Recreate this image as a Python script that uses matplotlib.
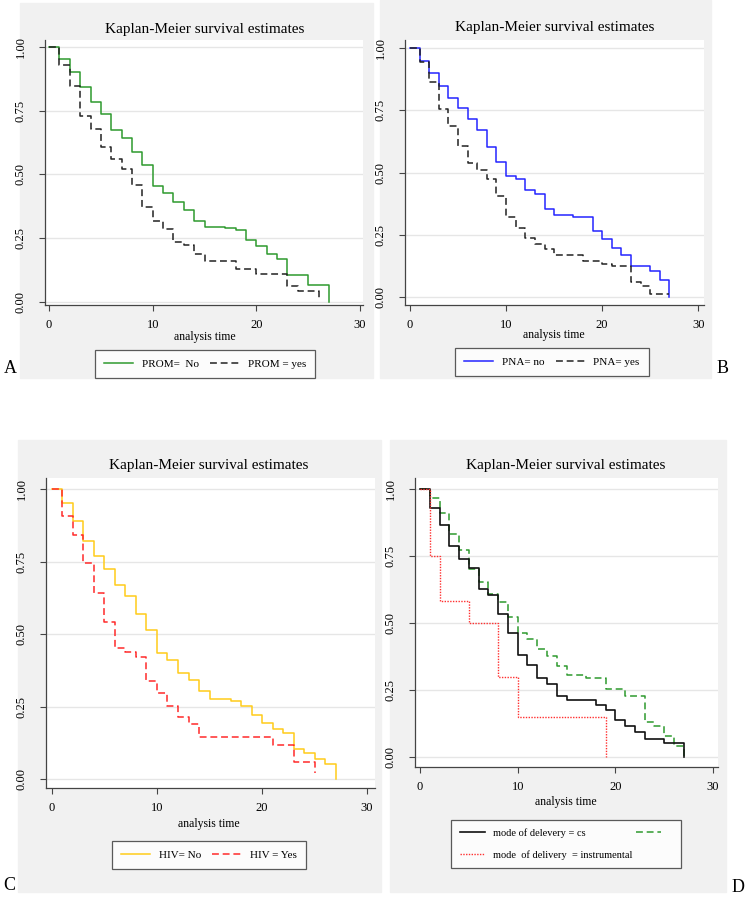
import matplotlib.pyplot as plt
from matplotlib.patches import Rectangle

plt.rcParams['font.family'] = ['Liberation Serif', 'DejaVu Serif']

# ---- data (KM survival estimates, step at each time) ----
# panel A: PROM
promno_t = [0, 1, 2, 3, 4, 5, 6, 7, 8, 9, 10, 11, 12, 13, 14, 15, 17, 18, 19, 20, 21, 22, 23, 25, 27]
promno_s = [1.0, 0.952, 0.902, 0.841, 0.784, 0.735, 0.673, 0.641, 0.586, 0.535, 0.455, 0.427, 0.390,
            0.359, 0.318, 0.294, 0.288, 0.282, 0.242, 0.220, 0.187, 0.169, 0.105, 0.068, 0.0]
promyes_t = [0, 1, 2, 3, 4, 5, 6, 7, 8, 9, 10, 11, 12, 13, 14, 15, 18, 20, 23, 24, 26]
promyes_s = [1.0, 0.928, 0.846, 0.729, 0.678, 0.608, 0.562, 0.520, 0.460, 0.373, 0.316, 0.286, 0.235,
             0.222, 0.186, 0.159, 0.131, 0.109, 0.063, 0.043, 0.015]

# panel B: PNA
pnano_t = [0, 1, 2, 3, 4, 5, 6, 7, 8, 9, 10, 11, 12, 13, 14, 15, 17, 19, 20, 21, 22, 23, 25, 26, 27]
pnano_s = [1.0, 0.949, 0.899, 0.846, 0.799, 0.758, 0.714, 0.671, 0.601, 0.544, 0.487, 0.474, 0.430,
           0.412, 0.352, 0.329, 0.321, 0.264, 0.231, 0.195, 0.168, 0.123, 0.105, 0.070, 0.0]
pnayes_t = [0, 1, 2, 3, 4, 5, 6, 7, 8, 9, 10, 11, 12, 13, 14, 15, 18, 20, 21, 23, 24, 25, 27]
pnayes_s = [1.0, 0.942, 0.862, 0.754, 0.687, 0.608, 0.537, 0.510, 0.472, 0.407, 0.322, 0.278, 0.239,
            0.212, 0.192, 0.168, 0.144, 0.132, 0.123, 0.060, 0.044, 0.013, 0.013]

# panel C: HIV
hivno_t = [0, 1, 2, 3, 4, 5, 6, 7, 8, 9, 10, 11, 12, 13, 14, 15, 17, 18, 19, 20, 21, 22, 23, 24, 25, 26, 27]
hivno_s = [1.0, 0.951, 0.891, 0.820, 0.770, 0.723, 0.670, 0.632, 0.569, 0.513, 0.436, 0.409, 0.367,
           0.343, 0.303, 0.276, 0.270, 0.253, 0.220, 0.194, 0.174, 0.157, 0.102, 0.091, 0.069, 0.052, 0.0]
hivyes_t = [0, 1, 2, 3, 4, 5, 6, 7, 8, 9, 10, 11, 12, 13, 14, 21, 23, 25]
hivyes_s = [1.0, 0.907, 0.841, 0.744, 0.643, 0.541, 0.451, 0.437, 0.420, 0.338, 0.298, 0.253, 0.213,
            0.191, 0.144, 0.116, 0.057, 0.02]

# panel D: mode of delivery
cs_t = [0, 1, 2, 3, 4, 5, 6, 7, 8, 9, 10, 11, 12, 13, 14, 15, 18, 19, 20, 21, 22, 23, 25, 27]
cs_s = [1.0, 0.930, 0.866, 0.788, 0.740, 0.704, 0.628, 0.604, 0.532, 0.461, 0.380, 0.342, 0.294,
        0.273, 0.227, 0.212, 0.193, 0.177, 0.137, 0.116, 0.095, 0.068, 0.052, 0.0]
svd_t = [0, 1, 2, 3, 4, 5, 6, 7, 8, 9, 10, 11, 12, 13, 14, 15, 17, 19, 21, 23, 24, 25, 26, 27]
svd_s = [1.0, 0.965, 0.912, 0.832, 0.771, 0.700, 0.654, 0.608, 0.578, 0.521, 0.461, 0.440, 0.405,
         0.376, 0.339, 0.308, 0.296, 0.255, 0.227, 0.130, 0.115, 0.077, 0.040, 0.0]
instr_t = [0, 1, 2, 5, 8, 10, 19]
instr_s = [1.0, 0.751, 0.583, 0.501, 0.299, 0.149, 0.0]

yticks = [0, 0.25, 0.5, 0.75, 1.0]
xticks = [0, 10, 20, 30]

W, H = 746, 900
fig = plt.figure(figsize=(W / 100, H / 100), dpi=100)
grey = '#f1f1f1'


def fx(x):
    return x / W


def fy(y):
    return 1 - y / H


def panel_bg(x0, y0, x1, y1):
    fig.patches.append(Rectangle((fx(x0), fy(y1)), fx(x1 - x0), (y1 - y0) / H,
                                 transform=fig.transFigure, color=grey, zorder=-10))


def make_ax(l, t, r, b, xlim, ylim):
    ax = fig.add_axes([fx(l), fy(b), fx(r - l), (b - t) / H])
    ax.set_zorder(2)
    ax.set_facecolor('white')
    ax.set_xlim(*xlim)
    ax.set_ylim(*ylim)
    for s in ['top', 'right']:
        ax.spines[s].set_visible(False)
    for s in ['left', 'bottom']:
        ax.spines[s].set_color('#444444')
        ax.spines[s].set_linewidth(0.9)
    ax.set_yticks(yticks)
    ax.set_yticklabels(['%.2f' % v for v in yticks], rotation=90, va='center')
    ax.set_xticks(xticks)
    ax.tick_params(axis='both', direction='out', length=4, width=0.8, color='#444444', labelsize=9)
    ax.tick_params(axis='y', pad=9)
    ax.tick_params(axis='x', pad=6)
    for v in yticks:
        ax.axhline(v, color='#e6e6e6', lw=1.0, zorder=0)
    return ax


def add_legend(handles, labels, cx, cy, **kw):
    opts = dict(loc='center', ncol=2, fontsize=8, frameon=True, fancybox=False,
                edgecolor='#333333', handlelength=2.6, columnspacing=1.0, borderpad=0.8)
    opts.update(kw)
    leg = fig.legend(handles, labels, bbox_to_anchor=(fx(cx), fy(cy)), **opts)
    leg.get_frame().set_linewidth(0.9)
    leg.set_zorder(3)
    return leg


# grey panel backgrounds
panel_bg(20, 3, 373, 378)
panel_bg(380, 0, 711, 378)
panel_bg(18, 440, 381, 892)
panel_bg(390, 440, 726, 892)

dash = (0, (4.5, 2.5))
title = 'Kaplan-Meier survival estimates'

# ---- A ----
axA = make_ax(45, 40, 363, 305, (-0.39, 30.29), (-0.012, 1.027))
l1, = axA.step(promno_t, promno_s, where='post', color='#2e9a2e', lw=1.1)
l2, = axA.step(promyes_t, promyes_s, where='post', color='#222222', lw=1.1, linestyle=dash)
fig.text(fx(205), fy(30), title, ha='center', va='center', fontsize=11)
fig.text(fx(205), fy(337), 'analysis time', ha='center', va='center', fontsize=8.5)
add_legend([l1, l2], ['PROM=  No', 'PROM = yes'], 205, 364)
fig.text(fx(4), fy(369), 'A', ha='left', va='center', fontsize=13)

# ---- B ----
axB = make_ax(405, 40, 704, 305, (-0.52, 30.6), (-0.032, 1.032))
l1, = axB.step(pnano_t, pnano_s, where='post', color='#2424ff', lw=1.1)
l2, = axB.step(pnayes_t, pnayes_s, where='post', color='#222222', lw=1.1, linestyle=dash)
fig.text(fx(555), fy(28), title, ha='center', va='center', fontsize=11)
fig.text(fx(554), fy(335), 'analysis time', ha='center', va='center', fontsize=8.5)
add_legend([l1, l2], ['PNA= no', 'PNA= yes'], 552, 362)
fig.text(fx(717), fy(369), 'B', ha='left', va='center', fontsize=13)

# ---- C ----
axC = make_ax(46, 478, 375, 788, (-0.57, 30.76), (-0.031, 1.038))
l1, = axC.step(hivno_t, hivno_s, where='post', color='#ffcc1a', lw=1.1)
l2, = axC.step(hivyes_t, hivyes_s, where='post', color='#ff2a2a', lw=1.1, linestyle=dash)
fig.text(fx(209), fy(465), title, ha='center', va='center', fontsize=11)
fig.text(fx(209), fy(824), 'analysis time', ha='center', va='center', fontsize=8.5)
add_legend([l1, l2], ['HIV= No', 'HIV = Yes'], 209, 855)
fig.text(fx(3), fy(885), 'C', ha='left', va='center', fontsize=13)

# ---- D ----
axD = make_ax(415, 478, 718, 767, (-0.51, 30.5), (-0.037, 1.041))
l3, = axD.step(svd_t, svd_s, where='post', color='#2e9a2e', lw=1.1, linestyle=dash)
l1, = axD.step(cs_t, cs_s, where='post', color='#111111', lw=1.2)
l2, = axD.step(instr_t, instr_s, where='post', color='#ff3030', lw=1.0, linestyle=(0, (1, 1)))
fig.text(fx(566), fy(465), title, ha='center', va='center', fontsize=11)
fig.text(fx(566), fy(802), 'analysis time', ha='center', va='center', fontsize=8.5)
add_legend([l1, l2, l3], ['mode of delevery = cs', 'mode  of delivery  = instrumental', ' '],
           566, 844, columnspacing=0.4, borderpad=0.8, labelspacing=1.2, fontsize=7.5,
           handlelength=2.4)
fig.text(fx(732), fy(887), 'D', ha='left', va='center', fontsize=13)

fig.savefig('out.png', dpi=100)
